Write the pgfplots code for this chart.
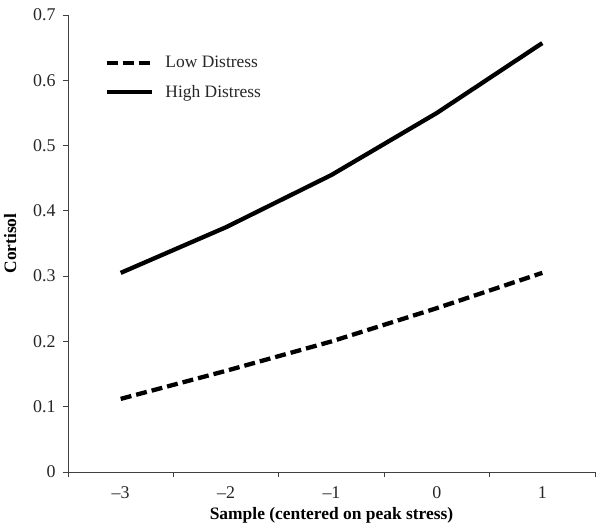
\documentclass[border=0pt]{standalone}
\usepackage{pgfplots}
\pgfplotsset{compat=1.18}
\usepackage{fontspec}
\setmainfont{Liberation Serif}
\begin{document}
\begin{tikzpicture}
\path[use as bounding box] (-68bp,-59bp) rectangle (536bp,472bp);
\begin{axis}[
  at={(0,0)}, anchor=south west,
  scale only axis, width=527bp, height=457bp,
  xmin=-3.5, xmax=1.5, ymin=0, ymax=0.7,
  axis lines=left, axis line style={-, draw=black!75, line width=0.9bp},
  tick align=outside,
  xtick={-3,-2,-1,0,1}, xticklabels={{--3},{--2},{--1},0,1},
  major x tick style={draw=none},
  minor xtick={-3.5,-2.5,-1.5,-0.5,0.5,1.5},
  minor tick length=5bp,
  minor x tick style={draw=black!75, line width=0.9bp},
  ytick={0,0.1,0.2,0.3,0.4,0.5,0.6,0.7},
  yticklabels={0,0.1,0.2,0.3,0.4,0.5,0.6,0.7},
  major tick length=5bp,
  major y tick style={draw=black!75, line width=0.9bp},
  ticklabel style={font=\fontsize{18}{20}\selectfont, text=black!85},
  xticklabel style={yshift=-6bp},
  yticklabel style={xshift=-4bp},
  xlabel={\bfseries Sample (centered on peak stress)},
  ylabel={\bfseries Cortisol},
  label style={font=\fontsize{17.5}{20}\selectfont},
  xlabel style={yshift=-2bp},
  ylabel style={yshift=10bp},
  legend style={at={(0,1)}, anchor=north west, xshift=34bp, yshift=-37bp, draw=none, fill=none,
    font=\fontsize{17.5}{20}\selectfont, row sep=12bp, column sep=9bp, text=black!85},
  legend cell align=left,
  legend image code/.code={\draw[#1] (0bp,0bp) -- (45bp,0bp);},
]
\addplot[black, line width=4.3bp, dash pattern=on 11bp off 5bp] coordinates {(-3,0.112) (-2,0.155) (-1,0.200) (0,0.251) (1,0.305)};
\addlegendentry{Low Distress}
\addplot[black, line width=4.3bp] coordinates {(-3,0.305) (-2,0.375) (-1,0.455) (0,0.550) (1,0.657)};
\addlegendentry{High Distress}
\end{axis}
\end{tikzpicture}
\end{document}
